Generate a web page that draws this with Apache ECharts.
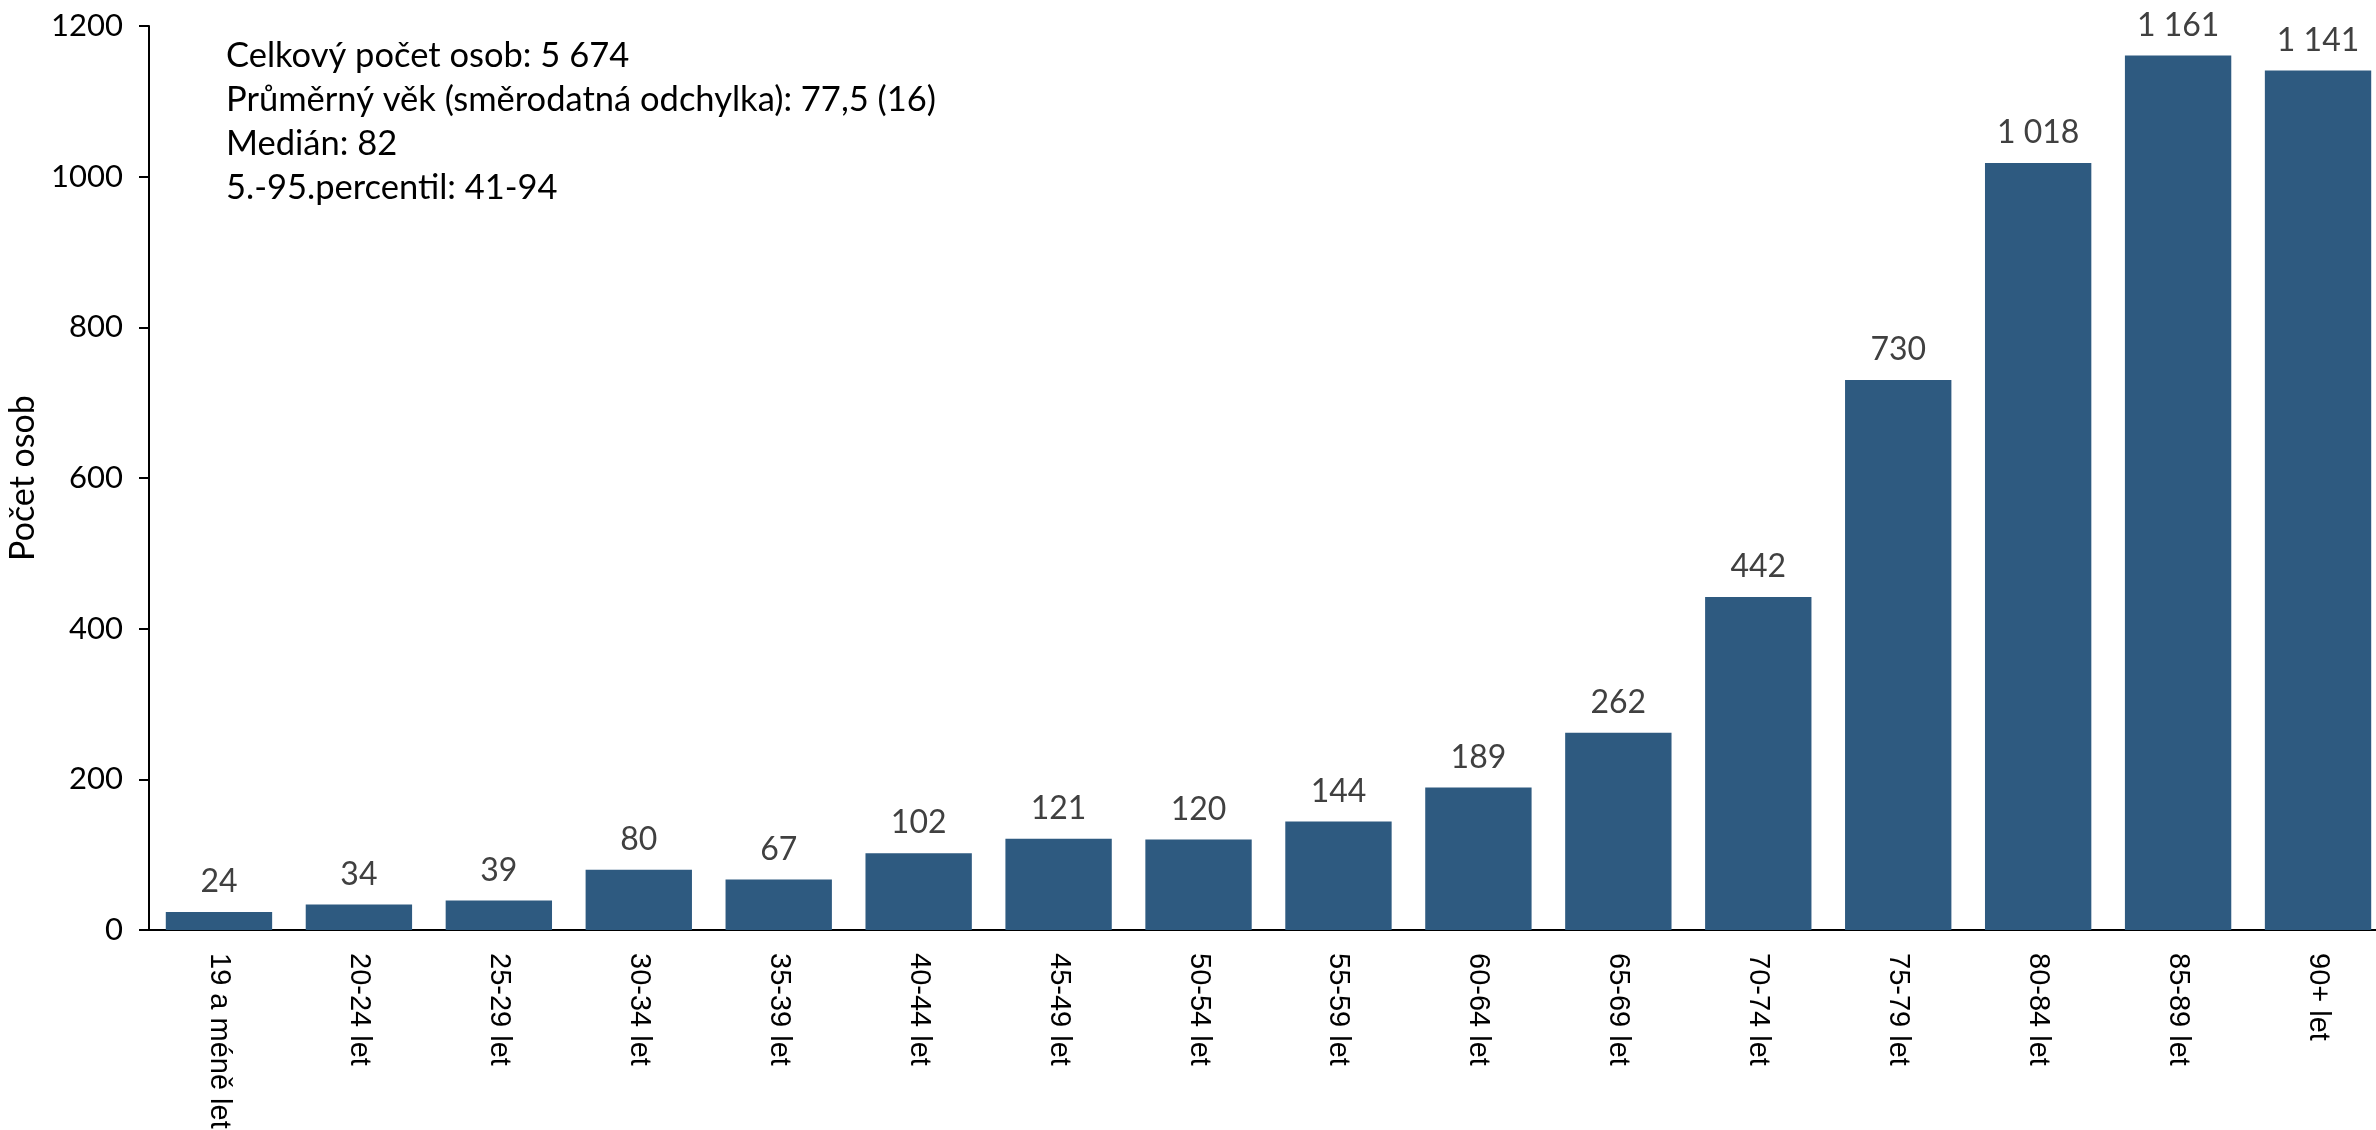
<!DOCTYPE html>
<html>
<head>
<meta charset="utf-8">
<script src="https://cdn.jsdelivr.net/npm/echarts@6/dist/echarts.min.js"></script>
<style>
html,body{margin:0;padding:0;background:#fff;}
#chart{width:2376px;height:1130px;}
</style>
</head>
<body>
<div id="chart"></div>
<script>
const categories = ['19 a méně let','20-24 let','25-29 let','30-34 let','35-39 let','40-44 let','45-49 let','50-54 let','55-59 let','60-64 let','65-69 let','70-74 let','75-79 let','80-84 let','85-89 let','90+ let'];
const counts = [24,34,39,80,67,102,121,120,144,189,262,442,730,1018,1161,1141];
const annotationLines = [
  'Celkový počet osob: 5 674',
  'Průměrný věk (směrodatná odchylka): 77,5 (16)',
  'Medián: 82',
  '5.-95.percentil: 41-94'
];
const yName = 'Počet osob';

const mainFont = 'Lato';
const chart = echarts.init(document.getElementById('chart'), null, {renderer:'canvas'});
chart.setOption({
  animation: false,
  backgroundColor: '#ffffff',
  grid: {left: 149, right: -12, top: 26, bottom: 200, containLabel: false, outerBoundsMode: 'none'},
  xAxis: {
    type: 'category',
    data: categories,
    axisLine: {show: true, lineStyle: {color: '#000', width: 2}},
    axisTick: {show: false},
    axisLabel: {rotate: -90, margin: 23, color: '#000', fontFamily: 'Liberation Sans', fontSize: 29, interval: 0}
  },
  yAxis: {
    type: 'value',
    min: 0, max: 1200, interval: 200,
    name: yName,
    nameLocation: 'middle',
    nameGap: 91,
    nameRotate: 90,
    nameTextStyle: {color: '#000', fontFamily: mainFont, fontSize: 34},
    axisLine: {show: true, lineStyle: {color: '#000', width: 2}},
    axisTick: {show: true, length: 10, lineStyle: {color: '#000', width: 2}},
    axisLabel: {margin: 26, color: '#000', fontFamily: mainFont, fontSize: 31, formatter: v => String(v)},
    splitLine: {show: false}
  },
  series: [{
    type: 'bar',
    data: counts,
    barCategoryGap: '24%',
    itemStyle: {color: '#2e5a80'},
    label: {
      show: true, position: 'top', distance: 14,
      color: '#404040', fontFamily: mainFont, fontSize: 32,
      formatter: p => String(p.value).replace(/\B(?=(\d{3})+(?!\d))/g, ' ')
    }
  }],
  graphic: [{
    type: 'text',
    left: 226, top: 34,
    style: {
      text: annotationLines.join('\n'),
      fill: '#000', font: '34.5px Lato', lineHeight: 44
    }
  }]
});
</script>
</body>
</html>
